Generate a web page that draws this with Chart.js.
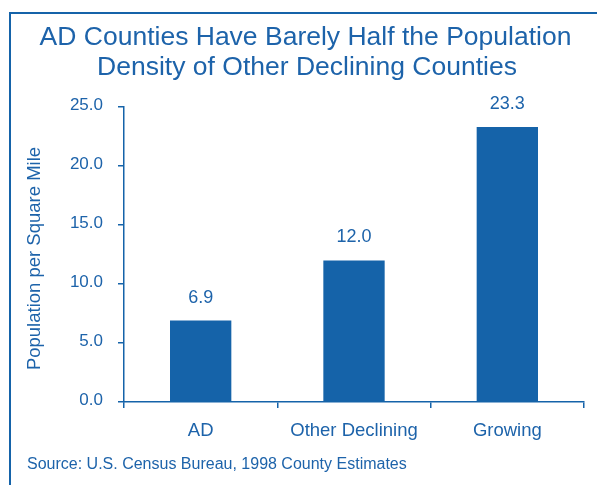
<!DOCTYPE html>
<html>
  <head>
    <title>Population Density</title>
    <script src="https://cdn.jsdelivr.net/npm/chart.js"></script>
    <style>
      html, body { margin: 0; padding: 0; background: #fff; }
      #wrap { width: 597px; height: 485px; position: relative; }
    </style>
  </head>
  <body>
    <div id="wrap"><canvas id="density-chart"></canvas></div>

    <script>
      // Chart data
      const categories = ['AD', 'Other Declining', 'Growing']
      const density = [6.9, 12.0, 23.3]
      const yTicks = [0, 5, 10, 15, 20, 25]
      const titleLines = [
        'AD Counties Have Barely Half the Population',
        'Density of Other Declining Counties'
      ]
      const yTitle = 'Population per Square Mile'
      const sourceNote = 'Source: U.S. Census Bureau, 1998 County Estimates'

      const blue = '#1563a9'
      const textBlue = '#1d63aa'
      const fontFamily = '"Liberation Sans", Arial, sans-serif'

      // frame, title, axis title, value labels and source line
      const decorations = {
        id: 'decorations',
        afterDraw(chart) {
          const ctx = chart.ctx
          ctx.save()
          ctx.strokeStyle = blue
          ctx.lineWidth = 2
          ctx.strokeRect(10, 13, 620, 520)

          ctx.fillStyle = textBlue
          ctx.textAlign = 'center'
          ctx.textBaseline = 'alphabetic'
          ctx.font = '26.5px ' + fontFamily
          ctx.fillText(titleLines[0], 305.5, 45)
          ctx.fillText(titleLines[1], 307, 75)

          ctx.font = '18px ' + fontFamily
          const meta = chart.getDatasetMeta(0)
          meta.data.forEach((bar, i) => {
            ctx.fillText(density[i].toFixed(1), bar.x, bar.y - 18)
          })

          ctx.save()
          ctx.translate(35, 258.5)
          ctx.rotate(-Math.PI / 2)
          ctx.textBaseline = 'middle'
          ctx.font = '18.5px ' + fontFamily
          ctx.fillText(yTitle, 0, 0)
          ctx.restore()

          ctx.textAlign = 'left'
          ctx.font = '16px ' + fontFamily
          ctx.fillText(sourceNote, 27, 469)
          ctx.restore()
        }
      }

      new Chart(document.getElementById('density-chart'), {
        type: 'bar',
        data: {
          labels: categories,
          datasets: [
            {
              data: density,
              backgroundColor: blue,
              categoryPercentage: 1,
              barPercentage: 0.4
            }
          ]
        },
        options: {
          responsive: true,
          maintainAspectRatio: false,
          animation: false,
          layout: { padding: { top: 107, right: 13, bottom: 0, left: 0 } },
          plugins: {
            legend: { display: false },
            tooltip: { enabled: false }
          },
          scales: {
            x: {
              afterFit: scale => { scale.height = 83 },
              grid: {
                drawOnChartArea: false,
                tickLength: 6,
                color: blue,
                lineWidth: 1.5
              },
              border: { color: blue, width: 1.5 },
              ticks: {
                color: textBlue,
                padding: 12,
                font: { family: fontFamily, size: 18.5 }
              }
            },
            y: {
              min: 0,
              max: 25,
              afterFit: scale => { scale.width = 124 },
              afterBuildTicks: scale => {
                scale.ticks = yTicks.map(v => ({ value: v }))
              },
              grid: {
                drawOnChartArea: false,
                tickLength: 6,
                color: blue,
                lineWidth: 1.5
              },
              border: { color: blue, width: 1.5 },
              ticks: {
                color: textBlue,
                padding: 15,
                labelOffset: -2,
                font: { family: fontFamily, size: 17 },
                callback: v => Number(v).toFixed(1)
              }
            }
          }
        },
        plugins: [decorations]
      })
    </script>
  </body>
</html>
